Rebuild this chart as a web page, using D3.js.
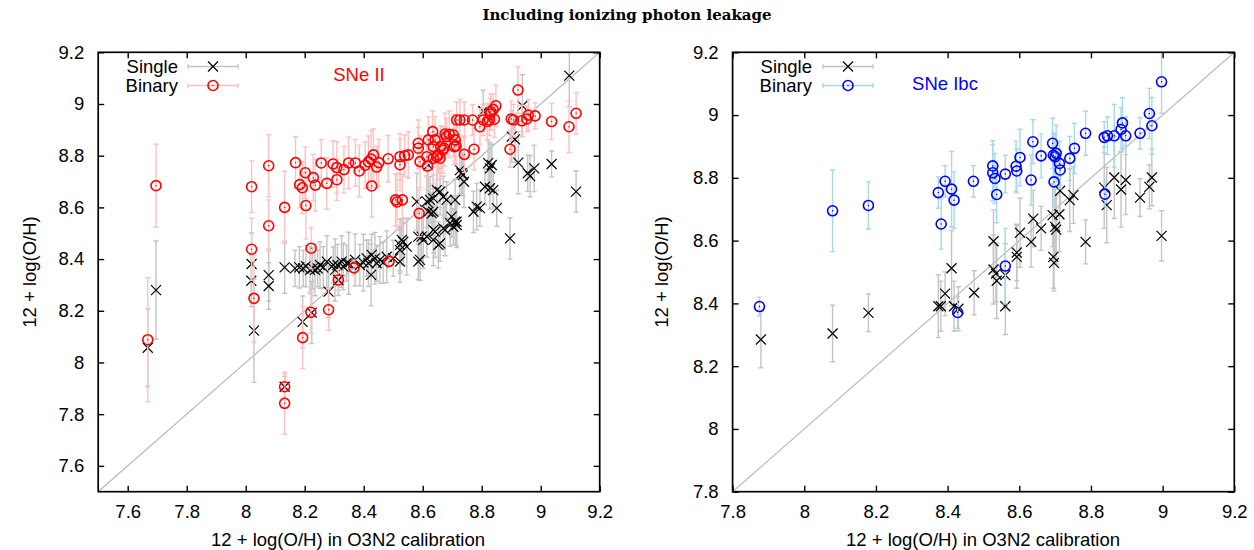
<!DOCTYPE html>
<html><head><meta charset="utf-8">
<script src="https://cdn.jsdelivr.net/npm/d3@7"></script>
<style>body{margin:0;background:#fff}svg{display:block}</style>
</head><body>
<svg id="c" width="1254" height="550"></svg>
<script>
// ---- data: [x (O3N2), y (12+log O/H), y error] ----
const titleText = "Including ionizing photon leakage";
const xLabel = "12 + log(O/H) in O3N2 calibration";
const yLabel = "12 + log(O/H)";
const legendNames = ["Single", "Binary"];
const panelLabels = ["SNe II", "SNe Ibc"];
const ticksLeft = [7.6, 7.8, 8.0, 8.2, 8.4, 8.6, 8.8, 9.0, 9.2];
const ticksRight = [7.8, 8.0, 8.2, 8.4, 8.6, 8.8, 9.0, 9.2];
const domainLeft = [7.5, 9.2];
const domainRight = [7.8, 9.2];

const iiSingle = [[7.668,8.057,0.15],[7.696,8.280,0.19],[8.019,8.316,0.10],[8.020,8.381,0.12],[8.028,8.123,0.20],[8.078,8.338,0.10],[8.078,8.296,0.09],[8.132,8.368,0.10],[8.132,7.906,0.04],[8.167,8.364,0.07],[8.182,8.368,0.08],[8.193,8.157,0.10],[8.195,8.364,0.07],[8.204,8.373,0.08],[8.218,8.358,0.09],[8.224,8.193,0.12],[8.227,8.364,0.08],[8.235,8.358,0.10],[8.244,8.364,0.07],[8.252,8.377,0.09],[8.263,8.368,0.08],[8.275,8.390,0.10],[8.281,8.274,0.10],[8.297,8.377,0.07],[8.303,8.358,0.12],[8.311,8.377,0.08],[8.314,8.319,0.06],[8.325,8.390,0.10],[8.331,8.371,0.09],[8.342,8.384,0.07],[8.349,8.384,0.12],[8.371,8.397,0.10],[8.387,8.377,0.08],[8.399,8.386,0.11],[8.410,8.403,0.07],[8.416,8.384,0.09],[8.425,8.339,0.12],[8.427,8.416,0.08],[8.438,8.403,0.10],[8.444,8.384,0.07],[8.455,8.397,0.09],[8.466,8.386,0.08],[8.478,8.409,0.10],[8.500,8.403,0.07],[8.523,8.390,0.08],[8.523,8.455,0.10],[8.534,8.467,0.09],[8.546,8.448,0.11],[8.529,8.474,0.08],[8.523,8.435,0.09],[8.585,8.390,0.07],[8.591,8.397,0.08],[8.585,8.487,0.10],[8.596,8.487,0.09],[8.602,8.474,0.11],[8.614,8.487,0.08],[8.636,8.474,0.10],[8.653,8.455,0.09],[8.659,8.461,0.07],[8.642,8.506,0.10],[8.636,8.513,0.09],[8.670,8.519,0.08],[8.676,8.513,0.10],[8.693,8.539,0.09],[8.704,8.525,0.07],[8.715,8.545,0.10],[8.698,8.564,0.08],[8.580,8.622,0.11],[8.614,8.622,0.10],[8.636,8.635,0.09],[8.670,8.641,0.08],[8.648,8.667,0.10],[8.659,8.661,0.09],[8.681,8.629,0.07],[8.710,8.629,0.08],[8.625,8.629,0.09],[8.619,8.583,0.10],[8.631,8.577,0.08],[8.636,8.583,0.09],[8.772,8.583,0.08],[8.794,8.597,0.07],[8.783,8.603,0.09],[8.726,8.744,0.09],[8.736,8.725,0.08],[8.740,8.699,0.10],[8.732,8.732,0.08],[8.619,8.764,0.10],[8.805,8.973,0.08],[9.097,9.110,0.12],[8.938,8.993,0.12],[8.902,8.874,0.10],[8.913,8.863,0.09],[8.924,8.773,0.12],[8.956,8.732,0.07],[8.964,8.721,0.08],[8.978,8.751,0.09],[9.037,8.768,0.05],[9.120,8.661,0.08],[8.896,8.480,0.08],[8.851,8.597,0.07],[8.839,8.667,0.07],[8.828,8.674,0.08],[8.811,8.680,0.07],[8.822,8.771,0.09],[8.834,8.764,0.08],[8.828,8.751,0.10],[8.710,8.545,0.09],[8.715,8.532,0.08]];

const iiBinary = [[7.668,8.088,0.24],[7.696,8.684,0.16],[8.020,8.680,0.10],[8.020,8.438,0.12],[8.028,8.248,0.17],[8.078,8.761,0.12],[8.078,8.529,0.10],[8.132,8.600,0.14],[8.132,7.906,0.05],[8.132,7.842,0.12],[8.169,8.773,0.10],[8.183,8.688,0.09],[8.192,8.676,0.10],[8.193,8.096,0.12],[8.202,8.734,0.10],[8.204,8.607,0.13],[8.221,8.194,0.08],[8.222,8.442,0.08],[8.229,8.715,0.09],[8.236,8.686,0.10],[8.256,8.772,0.09],[8.275,8.693,0.10],[8.281,8.204,0.08],[8.296,8.768,0.09],[8.309,8.754,0.10],[8.309,8.707,0.08],[8.314,8.319,0.04],[8.333,8.746,0.09],[8.349,8.772,0.10],[8.367,8.366,0.03],[8.372,8.772,0.09],[8.385,8.741,0.10],[8.405,8.763,0.09],[8.416,8.776,0.10],[8.425,8.787,0.11],[8.433,8.803,0.10],[8.427,8.683,0.12],[8.444,8.756,0.08],[8.451,8.773,0.09],[8.483,8.788,0.09],[8.486,8.391,0.02],[8.508,8.629,0.10],[8.513,8.621,0.11],[8.531,8.629,0.10],[8.523,8.796,0.09],[8.523,8.765,0.10],[8.539,8.800,0.08],[8.551,8.803,0.09],[8.585,8.848,0.09],[8.585,8.829,0.08],[8.588,8.577,0.09],[8.591,8.777,0.10],[8.614,8.796,0.08],[8.616,8.760,0.09],[8.619,8.861,0.09],[8.634,8.893,0.08],[8.642,8.861,0.09],[8.636,8.835,0.08],[8.636,8.790,0.10],[8.648,8.796,0.09],[8.659,8.790,0.08],[8.653,8.803,0.07],[8.661,8.835,0.08],[8.668,8.822,0.09],[8.672,8.829,0.07],[8.676,8.884,0.08],[8.681,8.874,0.07],[8.690,8.883,0.09],[8.704,8.880,0.08],[8.707,8.835,0.07],[8.710,8.861,0.08],[8.713,8.838,0.07],[8.715,8.938,0.07],[8.726,8.938,0.08],[8.741,8.938,0.07],[8.741,8.805,0.07],[8.769,8.938,0.06],[8.774,8.825,0.08],[8.794,8.912,0.07],[8.805,8.938,0.06],[8.819,8.932,0.07],[8.826,8.938,0.06],[8.843,8.941,0.07],[8.828,8.961,0.06],[8.831,8.970,0.07],[8.839,8.979,0.06],[8.848,8.993,0.08],[8.896,8.825,0.07],[8.900,8.942,0.07],[8.908,8.938,0.06],[8.923,9.054,0.09],[8.936,8.935,0.06],[8.953,8.942,0.05],[8.958,8.957,0.06],[8.981,8.954,0.05],[9.037,8.932,0.07],[9.096,8.912,0.10],[9.120,8.964,0.08]];

const ibcSingle = [[7.879,8.285,0.09],[8.079,8.304,0.09],[8.179,8.370,0.06],[8.374,8.391,0.10],[8.381,8.391,0.08],[8.393,8.431,0.07],[8.411,8.512,0.12],[8.418,8.391,0.08],[8.430,8.383,0.07],[8.474,8.434,0.07],[8.528,8.598,0.10],[8.528,8.508,0.11],[8.535,8.495,0.09],[8.537,8.472,0.12],[8.561,8.490,0.10],[8.561,8.391,0.09],[8.593,8.562,0.09],[8.593,8.548,0.10],[8.602,8.625,0.11],[8.633,8.596,0.08],[8.639,8.670,0.09],[8.661,8.639,0.07],[8.693,8.681,0.10],[8.700,8.644,0.12],[8.703,8.635,0.11],[8.695,8.548,0.10],[8.697,8.529,0.09],[8.712,8.684,0.12],[8.714,8.759,0.08],[8.741,8.729,0.10],[8.751,8.745,0.09],[8.785,8.596,0.07],[8.837,8.769,0.13],[8.844,8.713,0.12],[8.865,8.801,0.13],[8.884,8.763,0.12],[8.897,8.793,0.11],[8.937,8.737,0.06],[8.963,8.771,0.07],[8.970,8.801,0.09],[8.997,8.615,0.08]];

const ibcBinary = [[7.875,8.390,0.03],[8.079,8.695,0.13],[8.179,8.712,0.075],[8.374,8.753,0.05],[8.382,8.653,0.08],[8.393,8.789,0.05],[8.411,8.764,0.12],[8.418,8.729,0.09],[8.428,8.371,0.05],[8.472,8.789,0.05],[8.526,8.838,0.08],[8.526,8.816,0.09],[8.532,8.798,0.08],[8.537,8.747,0.09],[8.561,8.812,0.06],[8.561,8.519,0.12],[8.591,8.837,0.08],[8.593,8.822,0.07],[8.602,8.865,0.09],[8.633,8.793,0.08],[8.638,8.915,0.07],[8.661,8.870,0.07],[8.693,8.910,0.08],[8.695,8.872,0.07],[8.703,8.878,0.09],[8.700,8.867,0.07],[8.697,8.787,0.08],[8.712,8.846,0.07],[8.714,8.825,0.06],[8.741,8.862,0.07],[8.754,8.894,0.08],[8.785,8.942,0.07],[8.837,8.929,0.05],[8.846,8.934,0.06],[8.839,8.748,0.04],[8.865,8.934,0.10],[8.884,8.954,0.07],[8.888,8.975,0.08],[8.897,8.934,0.06],[8.937,8.942,0.05],[8.963,9.005,0.08],[8.970,8.966,0.09],[8.997,9.106,0.10]];

// ---- drawing ----
const svg = d3.select("#c");
const FONT = "'Liberation Sans', Arial, Helvetica, sans-serif";
const FS = 18.5;

svg.append("text").attr("x", 627).attr("y", 20).attr("text-anchor", "middle")
  .attr("font-family", "'DejaVu Serif', serif").attr("font-weight", "bold")
  .attr("font-size", 15).text(titleText);

const panels = [
  {x0: 98.2, x1: 599.7, y0: 52.3, y1: 491.7, dom: domainLeft, ticks: ticksLeft,
   single: iiSingle, binary: iiBinary, bColor: "#ff0000", bBar: "#ffc0c0",
   label: panelLabels[0], labelX: 359, labelY: 75, legX: 178, legLine: [188, 238],
   ytitleX: 30, xtitleX: 348},
  {x0: 732.6, x1: 1234.3, y0: 52.3, y1: 491.7, dom: domainRight, ticks: ticksRight,
   single: ibcSingle, binary: ibcBinary, bColor: "#0000ff", bBar: "#a8d8e8",
   label: panelLabels[1], labelX: 945, labelY: 84, legX: 812, legLine: [823, 873],
   ytitleX: 662, xtitleX: 983}
];
const sBar = "#c4c4c4";

function drawX(g, x, y) {
  const s = 5;
  g.append("path").attr("d", `M${x-s},${y-s}L${x+s},${y+s}M${x-s},${y+s}L${x+s},${y-s}`)
    .attr("stroke", "#000").attr("stroke-width", 1.2).attr("fill", "none");
}
function drawO(g, x, y, col) {
  g.append("circle").attr("cx", x).attr("cy", y).attr("r", 5)
    .attr("fill", "none").attr("stroke", col).attr("stroke-width", 1.6);
  g.append("circle").attr("cx", x).attr("cy", y).attr("r", 0.75).attr("fill", col);
}
function drawBar(g, x, ya, yb, col) {
  const c = 2.5;
  g.append("path").attr("d", `M${x},${ya}L${x},${yb}M${x-c},${ya}L${x+c},${ya}M${x-c},${yb}L${x+c},${yb}`)
    .attr("stroke", col).attr("stroke-width", 1.4).attr("fill", "none");
}

panels.forEach(p => {
  const xs = d3.scaleLinear().domain(p.dom).range([p.x0, p.x1]);
  const ys = d3.scaleLinear().domain(p.dom).range([p.y1, p.y0]);
  const g = svg.append("g");
  const clipId = "clip" + Math.round(p.x0);
  svg.append("clipPath").attr("id", clipId).append("rect")
    .attr("x", p.x0).attr("y", p.y0).attr("width", p.x1 - p.x0).attr("height", p.y1 - p.y0);
  const inner = g.append("g").attr("clip-path", `url(#${clipId})`);

  // 1:1 line
  inner.append("line").attr("x1", xs(p.dom[0])).attr("y1", ys(p.dom[0]))
    .attr("x2", xs(p.dom[1])).attr("y2", ys(p.dom[1]))
    .attr("stroke", "#b8b8b8").attr("stroke-width", 1.2);

  // single series
  p.single.forEach(d => drawBar(inner, xs(d[0]), ys(d[1] - d[2]), ys(d[1] + d[2]), sBar));
  p.single.forEach(d => drawX(inner, xs(d[0]), ys(d[1])));
  // binary series
  p.binary.forEach(d => drawBar(inner, xs(d[0]), ys(d[1] - d[2]), ys(d[1] + d[2]), p.bBar));
  p.binary.forEach(d => drawO(inner, xs(d[0]), ys(d[1]), p.bColor));

  // frame
  g.append("rect").attr("x", p.x0).attr("y", p.y0).attr("width", p.x1 - p.x0).attr("height", p.y1 - p.y0)
    .attr("fill", "none").attr("stroke", "#000").attr("stroke-width", 1.7);

  // axes with inward ticks, mirrored on top / right
  const fmt = d => String(+d.toFixed(1));
  const axB = g.append("g").attr("transform", `translate(0,${p.y1})`)
    .call(d3.axisBottom(xs).tickValues(p.ticks).tickSize(-6).tickPadding(13).tickFormat(fmt));
  const axT = g.append("g").attr("transform", `translate(0,${p.y0})`)
    .call(d3.axisTop(xs).tickValues(p.ticks).tickSize(-6).tickFormat(""));
  const axL = g.append("g").attr("transform", `translate(${p.x0},0)`)
    .call(d3.axisLeft(ys).tickValues(p.ticks).tickSize(-6).tickPadding(14).tickFormat(fmt));
  const axR = g.append("g").attr("transform", `translate(${p.x1},0)`)
    .call(d3.axisRight(ys).tickValues(p.ticks).tickSize(-6).tickFormat(""));
  [axB, axT, axL, axR].forEach(a => {
    a.select(".domain").remove();
    a.selectAll("line").attr("stroke", "#000").attr("stroke-width", 1.4);
    a.selectAll("text").attr("font-family", FONT).attr("font-size", FS).attr("fill", "#000");
  });

  // axis titles
  g.append("text").attr("x", p.xtitleX).attr("y", 546).attr("text-anchor", "middle")
    .attr("font-family", FONT).attr("font-size", FS).text(xLabel);
  g.append("text").attr("transform", `translate(${p.ytitleX},${(p.y0 + p.y1) / 2}) rotate(-90)`)
    .attr("text-anchor", "middle").attr("dy", "0.35em")
    .attr("font-family", FONT).attr("font-size", FS).text(yLabel);

  // legend
  const legY = [66.5, 85.5];
  legendNames.forEach((name, i) => {
    const y = legY[i];
    g.append("text").attr("x", p.legX).attr("y", y).attr("dy", "0.35em").attr("text-anchor", "end")
      .attr("font-family", FONT).attr("font-size", FS).text(name);
    const col = i === 0 ? sBar : p.bBar;
    const [la, lb] = p.legLine;
    g.append("path").attr("d", `M${la},${y}L${lb},${y}M${la},${y-2.5}L${la},${y+2.5}M${lb},${y-2.5}L${lb},${y+2.5}`)
      .attr("stroke", col).attr("stroke-width", 1.3).attr("fill", "none");
    if (i === 0) drawX(g, (la + lb) / 2, y); else drawO(g, (la + lb) / 2, y, p.bColor);
  });

  // panel label
  g.append("text").attr("x", p.labelX).attr("y", p.labelY).attr("dy", "0.35em").attr("text-anchor", "middle")
    .attr("font-family", FONT).attr("font-size", FS).attr("fill", p.bColor).text(p.label);
});
</script>
</body></html>
